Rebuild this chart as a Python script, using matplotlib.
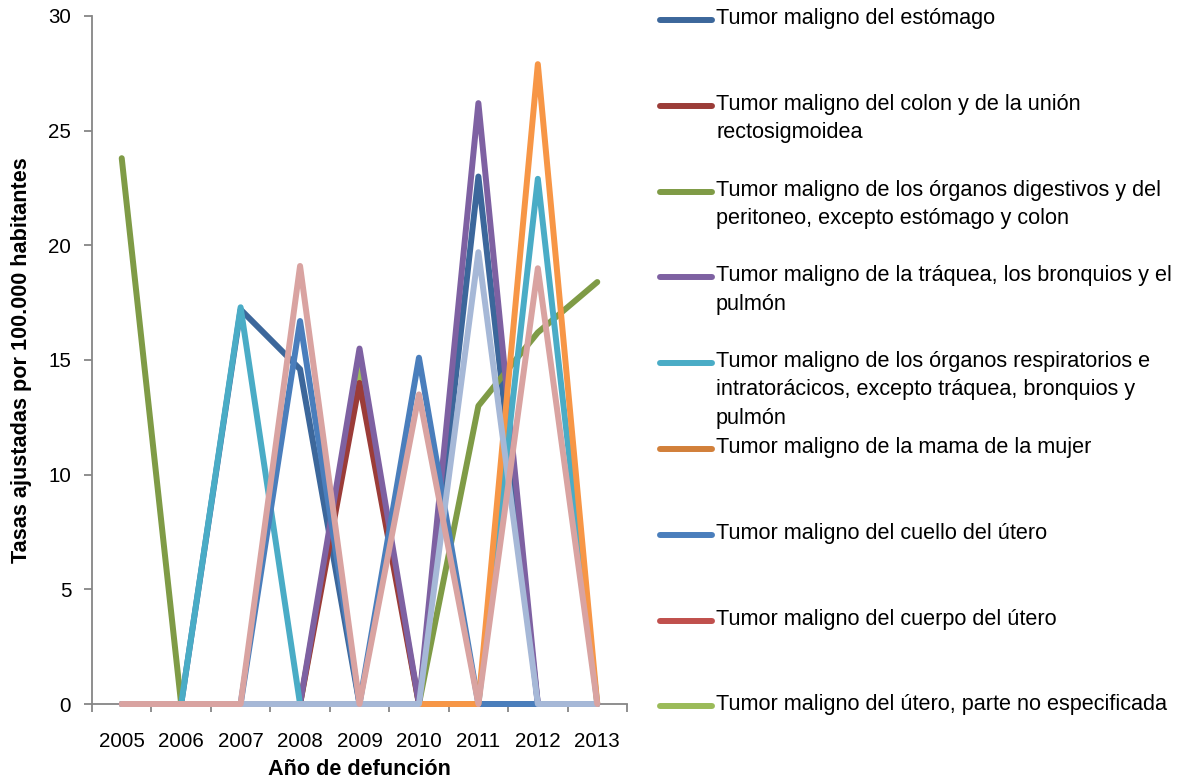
"""
Tasas ajustadas de mortalidad por tumores malignos, 2005-2013.
Saves out.png (1186x782).
"""

import matplotlib
matplotlib.use("Agg")
import matplotlib.pyplot as plt
from matplotlib import font_manager
from matplotlib.lines import Line2D

years = ["2005", "2006", "2007", "2008", "2009", "2010", "2011", "2012", "2013"]

estomago = [0, 0, 17.2, 14.6, 0, 0, 23.0, 0, 0]
colon = [0, 0, 0, 0, 14.0, 0, 0, 0, 0]
digestivos = [23.8, 0, 0, 0, 0, 0, 13.0, 16.2, 18.4]
traquea = [0, 0, 0, 0, 15.5, 0, 26.2, 0, 0]
respiratorios = [0, 0, 17.3, 0, 0, 0, 0, 22.9, 0]
mama = [0, 0, 0, 0, 0, 0, 0, 0, 0]
cuello = [0, 0, 0, 16.7, 0, 15.1, 0, 0, 0]
cuerpo = [0, 0, 0, 0, 0, 0, 0, 0, 0]
utero_ne = [0, 0, 0, 0, 14.7, 0, 0, 0, 0]
# series cut off from the legend in the original chart
serie_10 = [0, 0, 0, 0, 0, 0, 0, 27.9, 0]
serie_11 = [0, 0, 0, 0, 0, 0, 19.7, 0, 0]
serie_12 = [0, 0, 0, 19.1, 0, 13.5, 0, 19.0, 0]

labels = [
    "Tumor maligno del estómago",
    "Tumor maligno del colon y de la unión\nrectosigmoidea",
    "Tumor maligno de los órganos digestivos y del\nperitoneo, excepto estómago y colon",
    "Tumor maligno de la tráquea, los bronquios y el\npulmón",
    "Tumor maligno de los órganos respiratorios e\nintratorácicos, excepto tráquea, bronquios y\npulmón",
    "Tumor maligno de la mama de la mujer",
    "Tumor maligno del cuello del útero",
    "Tumor maligno del cuerpo del útero",
    "Tumor maligno del útero, parte no especificada",
]
series = [estomago, colon, digestivos, traquea, respiratorios, mama,
          cuello, cuerpo, utero_ne, serie_10, serie_11, serie_12]
colors = ["#3C679B", "#9B3C38", "#7F9B46", "#7E61A2", "#4AACC6", "#D2803A",
          "#4A7EBC", "#C0504D", "#9BBB59", "#F79646", "#A6B8D7", "#D9A3A1"]
# drawing order (later = on top)
zorders = [3, 3, 3, 3, 3, 2, 4, 2, 2, 5, 6, 7]


def _pick_font():
    try:
        font_manager.findfont("Liberation Sans Narrow", fallback_to_default=False)
        return "Liberation Sans Narrow", 1.0
    except ValueError:
        return "Liberation Sans", 0.82


FONT, SCALE = _pick_font()
plt.rcParams["font.family"] = [FONT, "DejaVu Sans"]

fig = plt.figure(figsize=(11.86, 7.82), dpi=100)
ax = fig.add_axes([92 / 1186, 78 / 782, 535 / 1186, 688 / 782])

x = list(range(len(years)))
for vals, col, z in zip(series, colors, zorders):
    ax.plot(x, vals, color=col, lw=4.3, solid_joinstyle="round",
            solid_capstyle="round", zorder=z, clip_on=False)

ax.set_xlim(-0.5, len(years) - 0.5)
ax.set_ylim(0, 30)
ax.set_yticks(range(0, 31, 5))
ax.set_xticks(x)
ax.set_xticklabels(years)
ax.set_xticks([i - 0.5 for i in range(len(years) + 1)], minor=True)

for side in ["top", "right"]:
    ax.spines[side].set_visible(False)
for side in ["left", "bottom"]:
    ax.spines[side].set_color("#868686")
    ax.spines[side].set_linewidth(1.3)

ax.tick_params(axis="x", which="major", length=0, pad=20, labelsize=18 * SCALE)
ax.tick_params(axis="x", which="minor", length=6, width=1.3, color="#868686")
ax.tick_params(axis="y", length=6, width=1.3, color="#868686", pad=9,
               labelsize=18 * SCALE)

ax.set_xlabel("Año de defunción", fontsize=19 * SCALE, fontweight="bold", labelpad=6)
ax.set_ylabel("Tasas ajustadas por 100.000 habitantes", fontsize=19 * SCALE,
              fontweight="bold", labelpad=12)

# legend: fixed-height slots, handle aligned with first text line
W, H = 1186, 782
slot = 85.8
for i, (lab, col) in enumerate(zip(labels, colors[:len(labels)])):
    yc = 20 + i * slot
    fig.add_artist(Line2D([660 / W, 712 / W], [1 - yc / H, 1 - yc / H],
                          color=col, lw=4.3, solid_capstyle="round"))
    fig.text(716 / W, 1 - (yc - 12) / H, lab, fontsize=19 * SCALE,
             va="top", ha="left", linespacing=1.45)

fig.savefig("out.png", dpi=100)
